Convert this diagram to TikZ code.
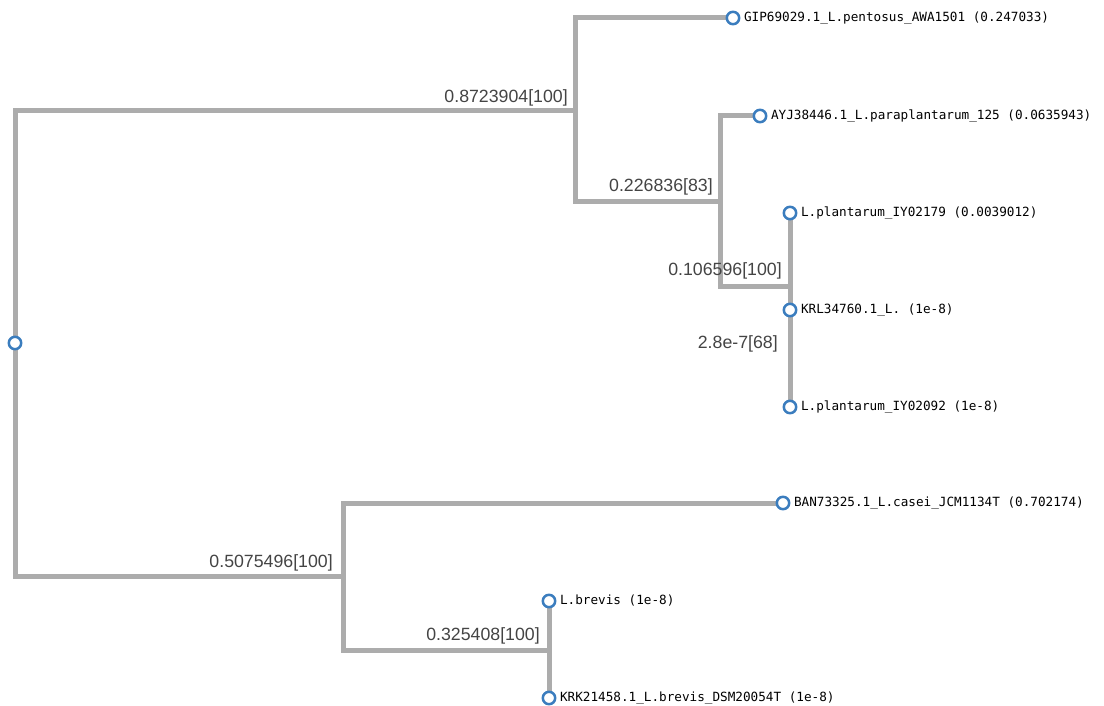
\documentclass[tikz,border=0pt]{standalone}
\usepackage{fontspec}
\setmainfont{Liberation Sans}
\newfontfamily\leaffont{DejaVu Sans Mono}
\usetikzlibrary{backgrounds}

\begin{document}
\begin{tikzpicture}[x=0.75pt,y=0.75pt,yscale=-1,
  tip/.style={circle,draw={rgb, 255:red, 59; green, 125; blue, 190 },line width=1.9pt,fill=white,minimum size=9.3pt,inner sep=0pt},
  branch/.style={draw={rgb, 255:red, 172; green, 172; blue, 172 },line width=3.75pt},
  taxon/.style={font=\leaffont\fontsize{9.5}{11}\selectfont,inner sep=0pt,label distance=2.5pt},
  support/.style={font=\fontsize{13.3}{15}\selectfont,text={rgb, 255:red, 68; green, 68; blue, 68 },inner sep=0pt,anchor=base east}]
\useasboundingbox (0,0) rectangle (1104,706);

%Shape: Circle root
\node [tip] (root) at (15,343) {};
%Shape: Circle leaves
\node [tip,label={[taxon]right:GIP69029.1\_L.pentosus\_AWA1501 (0.247033)}] (gip) at (733,18) {};
\node [tip,label={[taxon]right:AYJ38446.1\_L.paraplantarum\_125 (0.0635943)}] (ayj) at (760,116) {};
\node [tip,label={[taxon]right:L.plantarum\_IY02179 (0.0039012)}] (pla) at (790,213) {};
\node [tip,label={[taxon]right:KRL34760.1\_L. (1e-8)}] (krl) at (790,310) {};
\node [tip,label={[taxon]right:L.plantarum\_IY02092 (1e-8)}] (plb) at (790,407) {};
\node [tip,label={[taxon]right:BAN73325.1\_L.casei\_JCM1134T (0.702174)}] (ban) at (783,503) {};
\node [tip,label={[taxon]right:L.brevis (1e-8)}] (brv) at (549,601) {};
\node [tip,label={[taxon]right:KRK21458.1\_L.brevis\_DSM20054T (1e-8)}] (krk) at (549,698) {};

%Inner splits
\coordinate (na) at (575,111);
\coordinate (nb) at (720,202);
\coordinate (nc) at (790,287);
\coordinate (nd) at (343,576);
\coordinate (ne) at (549,650);

%Straight Lines
\begin{pgfonlayer}{background}
\draw [branch] (root) |- (na);
\draw [branch] (na) |- (gip);
\draw [branch] (na) |- (nb);
\draw [branch] (nb) |- (ayj);
\draw [branch] (nb) |- (nc);
\draw [branch] (pla) -- (plb);
\draw [branch] (root) |- (nd);
\draw [branch] (nd) |- (ban);
\draw [branch] (nd) |- (ne);
\draw [branch] (brv) -- (krk);
\end{pgfonlayer}

% Text Node
\node [support] (sa) at (568,103) {0.8723904[100]};
% Text Node
\node [support] (sb) at (713,192) {0.226836[83]};
% Text Node
\node [support] (sc) at (782,276) {0.106596[100]};
% Text Node
\node [support] (sd) at (778,349) {2.8e-7[68]};
% Text Node
\node [support] (se) at (333,567) {0.5075496[100]};
% Text Node
\node [support] (sf) at (540,640) {0.325408[100]};

\end{tikzpicture}
\end{document}
